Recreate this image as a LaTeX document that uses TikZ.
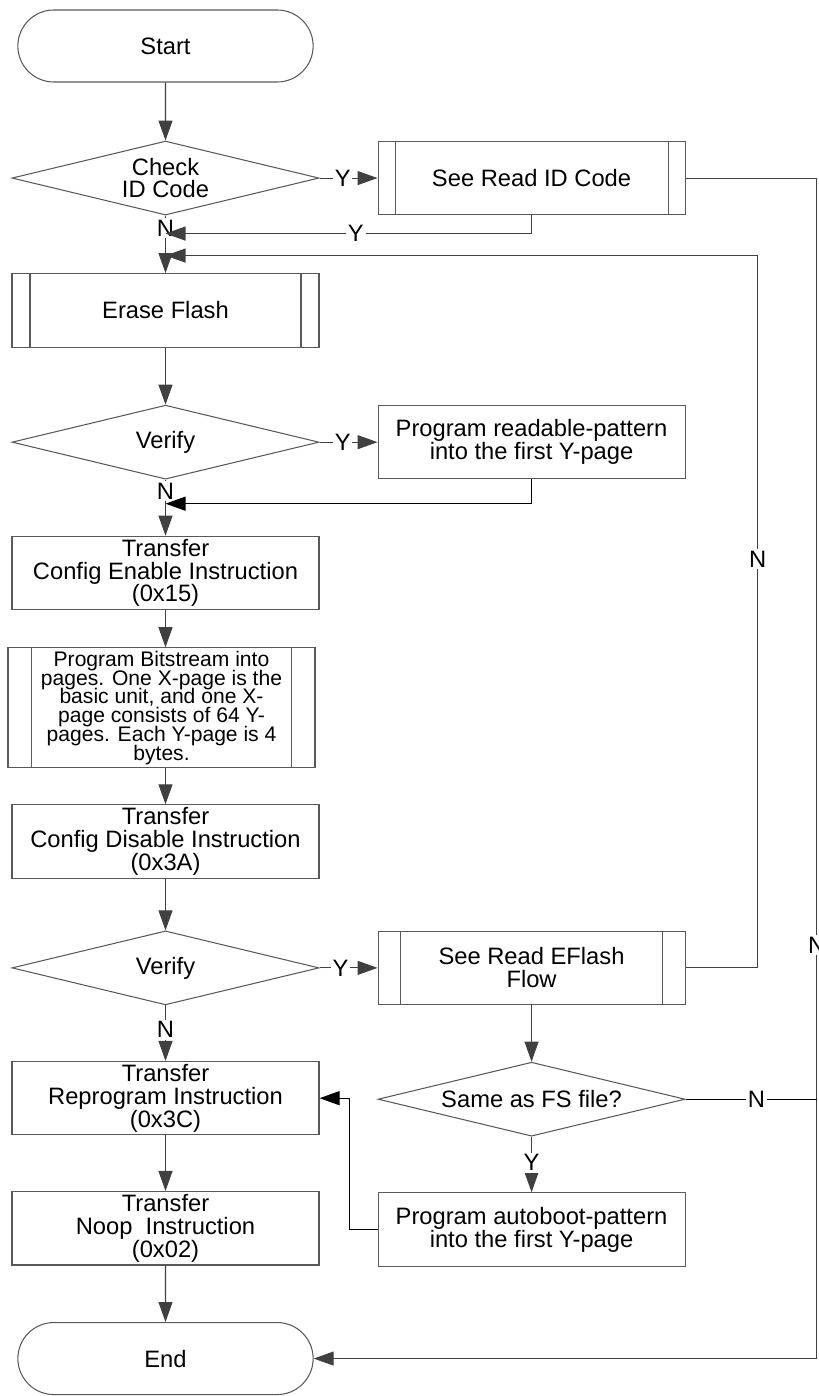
\documentclass[tikz,border=0pt]{standalone}
\usepackage{fontspec}
\setmainfont{Liberation Sans}
\usetikzlibrary{shapes.geometric,shapes.misc,arrows.meta,positioning}
\newcommand\tightfont{\fontsize{12}{10.7}\selectfont\lineskiplimit=-5pt\relax}

\begin{document}
\begin{tikzpicture}[font=\fontsize{13.5}{13}\selectfont,every node/.append style={align=center}]
\tikzset{box/.style={rectangle,draw=black!65,line width=0.6pt,minimum width=6.14cm,minimum height=1.47cm,inner sep=1pt},
term/.style={rounded rectangle,draw=black!65,line width=0.6pt,minimum width=6.14cm,minimum height=1.44cm},
dec/.style={diamond,aspect=4,draw=black!65,line width=0.6pt,minimum width=6.14cm,minimum height=1.48cm,inner sep=1pt},
sub/.style={box,path picture={%
\draw[black!65,line width=0.6pt] ([xshift=#1]path picture bounding box.north west) -- ([xshift=#1]path picture bounding box.south west);
\draw[black!65,line width=0.6pt] ([xshift=-#1]path picture bounding box.north east) -- ([xshift=-#1]path picture bounding box.south east);
}},
sub/.default=0.4cm,
arr/.style={draw=black!75,line width=0.6pt,-{Triangle[length=0.4cm,width=0.28cm]}},
arrb/.style={draw=black,line width=0.6pt,-{Triangle[length=0.4cm,width=0.28cm]}},
lbl/.style={fill=white,inner sep=1pt}}
\useasboundingbox (0,0) rectangle (16.38,-27.92);

\node[term] (start) at (3.31,-0.92) {Start};
\node[dec,below=1.16cm of start] (check) {Check\\ID Code};
\node[sub=0.34cm,right=1.16cm of check] (readid) {See Read ID Code};
\node[sub=0.36cm,below=1.15cm of check] (erase) {Erase Flash};
\node[dec,below=1.14cm of erase] (verifyA) {Verify};
\node[box,right=1.16cm of verifyA] (readable) {Program readable-pattern\\into the first Y-page};
\node[box,below=1.12cm of verifyA] (enable) {Transfer\\Config Enable Instruction\\(0x15)};
\node[sub=0.47cm,below=0.74cm of enable,xshift=-0.08cm,minimum height=2.4cm,font=\tightfont] (bitstream) {Program Bitstream into\\pages. One X-page is the\\basic unit, and one X-\\page consists of 64 Y-\\pages. Each Y-page is 4\\bytes.};
\node[box,below=0.72cm of bitstream,xshift=0.08cm] (disable) {Transfer\\Config Disable Instruction\\(0x3A)};
\node[dec,below=1.03cm of disable] (verifyB) {Verify};
\node[sub=0.45cm,right=1.16cm of verifyB] (eflash) {See Read EFlash\\Flow};
\node[box,below=1.11cm of verifyB] (reprog) {Transfer\\Reprogram Instruction\\(0x3C)};
\node[dec,below=1.13cm of eflash] (same) {Same as FS file?};
\node[box,below=1.11cm of same] (autoboot) {Program autoboot-pattern\\into the first Y-page};
\node[box,below=1.11cm of reprog] (noop) {Transfer\\Noop\ \ Instruction\\(0x02)};
\node[term,below=1.13cm of noop] (end) {End};

\coordinate (joinA) at ([yshift=-0.36cm]check.south);
\coordinate (joinB) at ([yshift=-0.8cm]check.south);
\coordinate (joinC) at ([yshift=-0.48cm]verifyA.south);

\draw[arr] (start) -- (check);
\draw[arr] (check) -- node[lbl,pos=0.4]{Y} (readid);
\draw[arr] (check.south) -- node[lbl,pos=0.22]{N} (erase);
\draw[arr] (readid.south) |- node[lbl,pos=0.74]{Y} (joinA);
\draw[arr] (eflash.east) -- ++(1.44,0) coordinate (aux1) |- node[lbl,pos=0.287]{N} (joinB);
\draw[arr] (readid.east) -- ++(2.62,0) coordinate (aux2) |- node[lbl,pos=0.325]{N} (end);

\draw[arr] (erase) -- (verifyA);
\draw[arr] (verifyA) -- node[lbl,pos=0.4]{Y} (readable);
\draw[arr] (verifyA.south) -- node[lbl,pos=0.2]{N} (enable);
\draw[arrb] (readable.south) |- (joinC);

\draw[arr] (enable) -- (enable |- bitstream.north);
\draw[arr] (disable |- bitstream.south) -- (disable);
\draw[arr] (disable) -- (verifyB);
\draw[arr] (verifyB) -- node[lbl,pos=0.36]{Y} (eflash);
\draw[arr] (verifyB.south) -- node[lbl,pos=0.44]{N} (reprog);
\draw[arr] (eflash) -- (same);
\draw[arr] (same) -- node[lbl,pos=0.47]{Y} (autoboot);
\draw (same.east) -- node[lbl,pos=0.54]{N} (same.east -| aux2);
\draw[arrb] (autoboot.west) -- ++(-0.56,0) |- (reprog);
\draw[arr] (reprog) -- (noop);
\draw[arr] (noop) -- (end);
\end{tikzpicture}
\end{document}
